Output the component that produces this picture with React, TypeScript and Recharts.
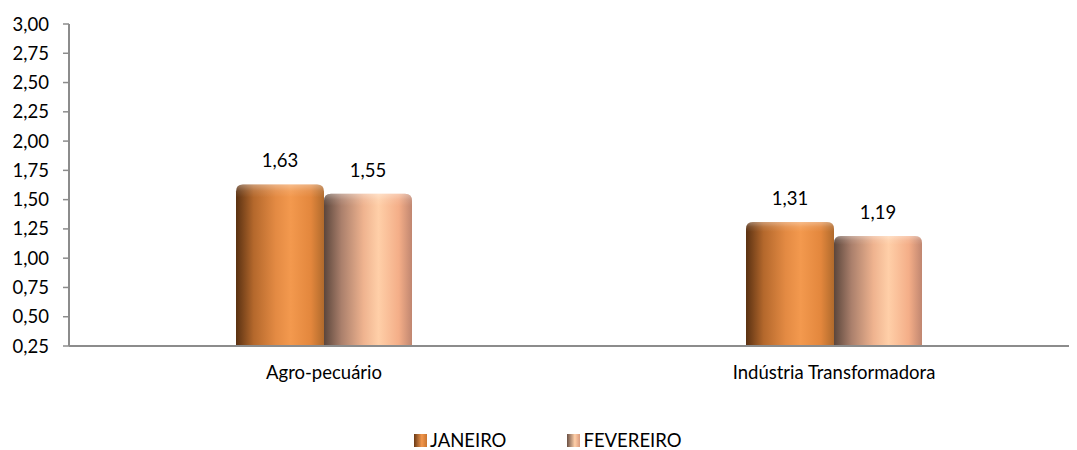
import React from 'react';
import { BarChart, Bar, XAxis, YAxis, Legend, LabelList } from 'recharts';

const categories = ['Agro-pecuário', 'Indústria Transformadora'];
const janeiro = [1.63, 1.31];
const fevereiro = [1.55, 1.19];
const yTicks = [0.25, 0.5, 0.75, 1.0, 1.25, 1.5, 1.75, 2.0, 2.25, 2.5, 2.75, 3.0];
const seriesNames = ['JANEIRO', 'FEVEREIRO'];

const data = categories.map((c, i) => ({ cat: c, jan: janeiro[i], fev: fevereiro[i] }));

const FONT = 'Lato, "Open Sans", sans-serif';
const FS = 18.5;
const fmt = (v: number) => v.toFixed(2).replace('.', ',');

const makeShape = (gradId: string) => (props: any) => {
  const { x, y, width, height } = props;
  if (!height || height <= 0) return null;
  const r = Math.min(7, width / 2, height);
  const d = `M${x},${y + height} L${x},${y + r} Q${x},${y} ${x + r},${y} L${x + width - r},${y} Q${x + width},${y} ${x + width},${y + r} L${x + width},${y + height} Z`;
  return (
    <g>
      <path d={d} fill={`url(#${gradId})`} />
      <path d={d} fill="url(#capShade)" />
    </g>
  );
};

const JanShape = makeShape('gJan');
const FevShape = makeShape('gFev');

const LegendContent = () => (
  <div style={{ display: 'flex', alignItems: 'center', fontFamily: FONT, fontSize: FS, color: '#000', height: 20, whiteSpace: 'nowrap' }}>
    <span style={{ display: 'inline-block', width: 13, height: 13, background: 'linear-gradient(to right, #6a3a16, #f2974c 60%, #c9742f)', marginRight: 3 }} />
    <span style={{ marginRight: 61 }}>{seriesNames[0]}</span>
    <span style={{ display: 'inline-block', width: 13, height: 13, background: 'linear-gradient(to right, #6a5044, #ffcfa8 60%, #d99a7c)', marginRight: 3 }} />
    <span>{seriesNames[1]}</span>
  </div>
);

export default function App() {
  return (
    <div style={{ width: 1069, height: 442, overflow: 'hidden', position: 'relative' }}>
      <BarChart
        width={1090}
        height={442}
        data={data}
        margin={{ top: 16, right: 9, left: 0, bottom: 50 }}
        barCategoryGap={167}
        barGap={0}
      >
        <defs>
          <linearGradient id="gJan" x1="0" y1="0" x2="1" y2="0">
            <stop offset="0%" stopColor="#5a3112" />
            <stop offset="20%" stopColor="#b4682c" />
            <stop offset="45%" stopColor="#e38a43" />
            <stop offset="62%" stopColor="#f3994e" />
            <stop offset="85%" stopColor="#e3873d" />
            <stop offset="100%" stopColor="#b06a2c" />
          </linearGradient>
          <linearGradient id="gFev" x1="0" y1="0" x2="1" y2="0">
            <stop offset="0%" stopColor="#5b463c" />
            <stop offset="20%" stopColor="#ab806c" />
            <stop offset="45%" stopColor="#efb38f" />
            <stop offset="62%" stopColor="#ffcfa8" />
            <stop offset="85%" stopColor="#f4ae88" />
            <stop offset="100%" stopColor="#c08670" />
          </linearGradient>
          <linearGradient id="capShade" x1="0" y1="0" x2="0" y2="1">
            <stop offset="0%" stopColor="#ffffff" stopOpacity={0.35} />
            <stop offset="4%" stopColor="#ffffff" stopOpacity={0.1} />
            <stop offset="8%" stopColor="#ffffff" stopOpacity={0} />
            <stop offset="100%" stopColor="#ffffff" stopOpacity={0} />
          </linearGradient>
        </defs>
        <XAxis
          dataKey="cat"
          height={34}
          tickLine={false}
          tickMargin={14}
          axisLine={{ stroke: '#8c8c8c', strokeWidth: 2 }}
          tick={{ fill: '#000', fontSize: FS, fontFamily: FONT }}
          interval={0}
        />
        <YAxis
          width={61}
          domain={[0.25, 3]}
          ticks={yTicks}
          interval={0}
          tickFormatter={fmt}
          tickSize={6}
          tickMargin={14}
          axisLine={{ stroke: '#8c8c8c', strokeWidth: 2 }}
          tickLine={{ stroke: '#8c8c8c', strokeWidth: 1.5 }}
          tick={{ fill: '#000', fontSize: FS, fontFamily: FONT }}
        />
        <Legend
          content={<LegendContent />}
          verticalAlign="bottom"
          wrapperStyle={{ top: 422, left: 406, bottom: 'auto', width: 'auto' }}
        />
        <Bar dataKey="jan" name={seriesNames[0]} shape={JanShape} isAnimationActive={false}>
          <LabelList dataKey="jan" position="top" offset={17} formatter={(v: any) => fmt(Number(v))} style={{ fill: '#000', fontSize: FS, fontFamily: FONT }} />
        </Bar>
        <Bar dataKey="fev" name={seriesNames[1]} shape={FevShape} isAnimationActive={false}>
          <LabelList dataKey="fev" position="top" offset={17} formatter={(v: any) => fmt(Number(v))} style={{ fill: '#000', fontSize: FS, fontFamily: FONT }} />
        </Bar>
      </BarChart>
    </div>
  );
}
